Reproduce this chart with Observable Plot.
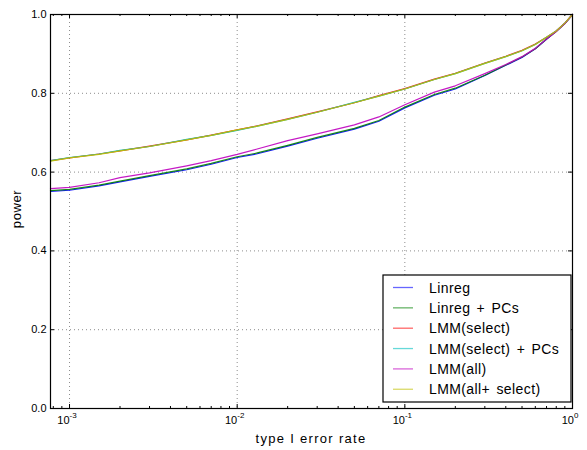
<!DOCTYPE html>
<html><head><meta charset="utf-8">
<script src="https://cdn.jsdelivr.net/npm/d3@7"></script>
<script src="https://cdn.jsdelivr.net/npm/@observablehq/plot@0.6"></script>
<style>
body{margin:0;background:#fff;}
#chart svg{font-family:"Liberation Sans",Arial,sans-serif;display:block;}
</style>
</head><body><div id="chart"></div>
<script>
// type I error rate (x)
const errorRate = [7.7e-4, 1e-3, 1.5e-3, 2e-3, 3e-3, 5e-3, 7e-3, 1e-2, 1.3e-2, 2e-2, 3e-2, 5e-2, 7e-2, 0.1, 0.15, 0.2, 0.3, 0.4, 0.5, 0.6, 0.7, 0.8, 0.9, 1.0];
// power per method
const linreg        = [0.551, 0.554, 0.565, 0.575, 0.589, 0.606, 0.620, 0.637, 0.646, 0.666, 0.686, 0.709, 0.729, 0.763, 0.795, 0.811, 0.845, 0.871, 0.891, 0.913, 0.937, 0.958, 0.977, 1.0];
const linregPCs     = [0.553, 0.556, 0.567, 0.577, 0.591, 0.608, 0.622, 0.639, 0.648, 0.668, 0.688, 0.711, 0.731, 0.765, 0.797, 0.813, 0.846, 0.872, 0.892, 0.913, 0.938, 0.957, 0.977, 1.0];
const lmmSelect     = [0.629, 0.636, 0.646, 0.654, 0.666, 0.682, 0.694, 0.707, 0.717, 0.735, 0.753, 0.776, 0.794, 0.812, 0.836, 0.851, 0.877, 0.894, 0.909, 0.925, 0.942, 0.958, 0.978, 1.0];
const lmmSelectPCs  = [0.629, 0.637, 0.646, 0.655, 0.665, 0.683, 0.693, 0.706, 0.716, 0.734, 0.752, 0.777, 0.793, 0.811, 0.835, 0.850, 0.876, 0.893, 0.908, 0.924, 0.942, 0.958, 0.978, 1.0];
const lmmAll        = [0.558, 0.561, 0.573, 0.586, 0.598, 0.616, 0.629, 0.645, 0.658, 0.680, 0.697, 0.720, 0.740, 0.771, 0.803, 0.819, 0.850, 0.873, 0.893, 0.914, 0.938, 0.957, 0.977, 1.0];
const lmmAllSelect  = [0.628, 0.636, 0.645, 0.654, 0.665, 0.682, 0.693, 0.707, 0.716, 0.734, 0.752, 0.776, 0.793, 0.811, 0.835, 0.850, 0.876, 0.893, 0.908, 0.924, 0.942, 0.958, 0.978, 1.0];

const seriesNames  = ["Linreg", "Linreg + PCs", "LMM(select)", "LMM(select) + PCs", "LMM(all)", "LMM(all+ select)"];
const seriesValues = [linreg, linregPCs, lmmSelect, lmmSelectPCs, lmmAll, lmmAllSelect];
const seriesColors = ["#0000ff", "#008000", "#ff0000", "#00bfbf", "#bf00bf", "#bfbf00"];

const xMajorTicks = [1e-3, 1e-2, 1e-1, 1];
const xTickBase = ["10", "10", "10", "10"];
const xTickExp = ["-3", "-2", "-1", "0"];
const yTicks = [0, 0.2, 0.4, 0.6, 0.8, 1.0];
const yTickLabels = ["0.0", "0.2", "0.4", "0.6", "0.8", "1.0"];
const xLabel = "type I error rate";
const yLabel = "power";

const xMinorTicks = [];
for (let k = -4; k <= -1; k++) for (let m = 2; m <= 9; m++) {
  const v = m * Math.pow(10, k);
  if (v >= 7.7e-4 && v < 1) xMinorTicks.push(v);
}

const data = seriesNames.flatMap((name, i) => errorRate.map((x, j) => ({x, y: seriesValues[i][j], series: name})));

const W = 587, H = 450, mL = 50, mR = 15, mT = 14, mB = 42;
const innerW = W - mL - mR, innerH = H - mT - mB;

const grid = {stroke: "#000", strokeOpacity: 0.45, strokeDasharray: "1,3"};

const svg = Plot.plot({
  width: W, height: H,
  marginLeft: mL, marginRight: mR, marginTop: mT, marginBottom: mB,
  style: {fontFamily: "'Liberation Sans', Arial, sans-serif", fontSize: "11px", background: "#fff", color: "#000"},
  x: {type: "log", domain: [7.7e-4, 1], axis: null},
  y: {domain: [0, 1], axis: null},
  color: {domain: seriesNames, range: seriesColors},
  marks: [
    Plot.ruleX(xMajorTicks.slice(0, 3), grid),
    Plot.ruleY(yTicks.slice(1, 5), grid),
    Plot.line(data, {x: "x", y: "y", z: "series", stroke: "series", strokeWidth: 1.2, strokeOpacity: 0.9}),
    Plot.ruleX(xMajorTicks, {insetTop: innerH - 4, stroke: "#000"}),
    Plot.ruleX(xMajorTicks, {insetBottom: innerH - 4, stroke: "#000"}),
    Plot.ruleX(xMinorTicks, {insetTop: innerH - 2, stroke: "#000"}),
    Plot.ruleX(xMinorTicks, {insetBottom: innerH - 2, stroke: "#000"}),
    Plot.ruleY(yTicks, {insetRight: innerW - 4, stroke: "#000"}),
    Plot.ruleY(yTicks, {insetLeft: innerW - 4, stroke: "#000"}),
    Plot.frame({stroke: "#000", strokeWidth: 1.2}),
    Plot.axisY(yTicks, {tickSize: 0, tickPadding: 4, tickFormat: (d, i) => yTickLabels[i], label: null, fontSize: 11})
  ]
});

const s = d3.select(svg);
const xs = svg.scale("x");

// x tick labels with superscripts
xMajorTicks.forEach((v, i) => {
  const t = s.append("text").attr("x", xs.apply(v) - 2).attr("y", 424)
    .attr("text-anchor", "middle").attr("font-size", "11px").attr("fill", "#000");
  t.append("tspan").text(xTickBase[i]);
  t.append("tspan").attr("dy", "-6").attr("font-size", "8px").text(xTickExp[i]);
});

// axis labels
s.append("text").attr("x", mL + innerW / 2).attr("y", 442.5).attr("text-anchor", "middle")
  .attr("font-size", "13px").attr("letter-spacing", "1.3px").attr("fill", "#000").text(xLabel);
s.append("text").attr("transform", `translate(21,${mT + innerH / 2 - 2}) rotate(-90)`).attr("text-anchor", "middle")
  .attr("font-size", "13px").attr("letter-spacing", "0.6px").attr("fill", "#000").text(yLabel);

// legend
const lg = s.append("g").attr("font-size", "14px").attr("text-anchor", "start");
const lx = 383, ly = 275, lw = 188, lh = 127, rowH = 20.35;
lg.append("rect").attr("x", lx).attr("y", ly).attr("width", lw).attr("height", lh)
  .attr("fill", "#fff").attr("stroke", "#000").attr("stroke-width", 1.2);
seriesNames.forEach((name, i) => {
  const yy = ly + 12.5 + i * rowH;
  lg.append("line").attr("x1", lx + 10).attr("x2", lx + 30).attr("y1", yy).attr("y2", yy)
    .attr("stroke", seriesColors[i]).attr("stroke-opacity", 0.6).attr("stroke-width", 1.3);
  lg.append("text").attr("x", lx + 46).attr("y", yy).attr("dy", "0.36em")
    .attr("text-anchor", "start").attr("letter-spacing", "0.4px").attr("word-spacing", "2px")
    .attr("fill", "#000").text(name);
});

document.getElementById("chart").appendChild(svg);
</script>
</body></html>
